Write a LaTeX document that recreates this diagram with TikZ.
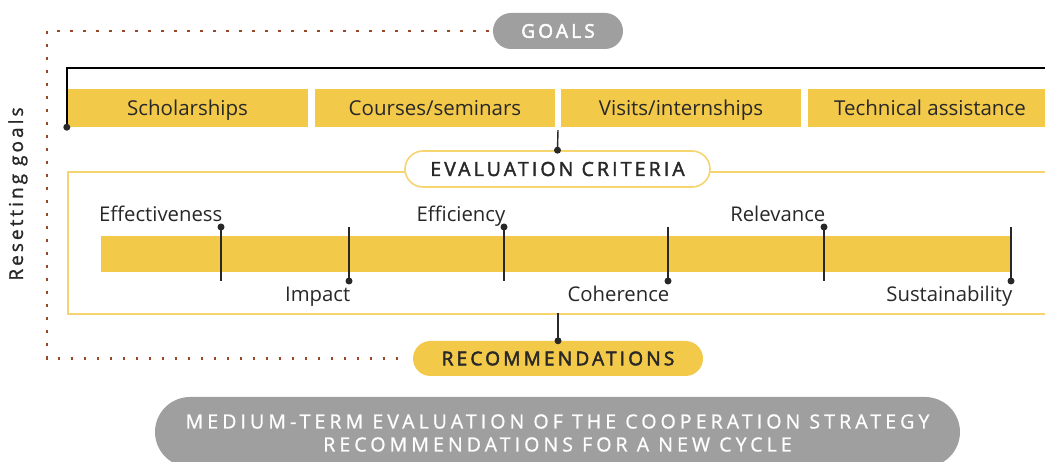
\documentclass[tikz,border=0pt]{standalone}
\usepackage{fontspec}
\setmainfont{Open Sans}
\newfontfamily\capsfont[LetterSpace=16]{Open Sans}
\newfontfamily\heavycaps[LetterSpace=17,FakeBold=2.6]{Open Sans}
\newfontfamily\widecaps[LetterSpace=21,FakeBold=1]{Open Sans}
\usetikzlibrary{calc}
\definecolor{ybar}{RGB}{243,201,74}
\definecolor{yline}{RGB}{246,212,112}
\definecolor{pill}{RGB}{158,159,158}
\definecolor{ink}{RGB}{40,40,40}
\definecolor{rust}{RGB}{150,72,40}
\begin{document}
\begin{tikzpicture}[x=1pt,y=-1pt,
  goalbox/.style={fill=ybar, text=ink, minimum height=38pt, inner sep=0pt,
    text height=19pt, text depth=3pt, font=\fontsize{20.5}{24}\selectfont},
  pillnode/.style={rounded corners=#1, inner sep=0pt},
  crit/.style={text=ink, inner sep=0pt, font=\fontsize{20.3}{24}\selectfont},
  tick/.style={draw=ink, line width=1.4pt},
  dotend/.style={fill=ink, circle, inner sep=0pt, minimum size=7pt},
  dotline/.style={draw=rust, line width=2.4pt, dash pattern=on 2.4pt off 10.6pt},
  frameline/.style={draw=yline, line width=1.6pt}]
\useasboundingbox (0,0) rectangle (1045,462);

% feedback loop: goals back to recommendations
\node[pillnode=18pt, fill=pill, text=white, minimum width=130pt, minimum height=36pt,
  font=\heavycaps\fontsize{19}{22}\selectfont] (goals) at (558,31) {GOALS};
\node[pillnode=17.5pt, fill=ybar, text=ink, minimum width=290pt, minimum height=35pt,
  font=\heavycaps\fontsize{19}{22}\selectfont] (rec) at (558,358.5) {RECOMMENDATIONS};
\coordinate (loopTL) at (47,31);
\coordinate (loopBL) at (47,358.5);
\draw[dotline] ([xshift=-4pt]goals.west) -- (loopTL) -- (loopBL) -- ([xshift=-10pt]rec.west);

\node[rotate=90, text=ink, font=\capsfont\fontsize{19}{22}\selectfont] (reset) at (18,194)
  {\addfontfeature{FakeBold=1.3}Resetting goals};

% goal categories
\node[goalbox, minimum width=241pt] (sch) at (187.5,108) {Scholarships};
\node[goalbox, minimum width=240pt] (cou) at (435,108) {Courses/seminars};
\node[goalbox, minimum width=240pt] (vis) at (681,108) {Visits/internships};
\node[goalbox, minimum width=244pt] (tec) at (930,108) {Technical assistance};

\coordinate (topR) at (1050,68);
\draw[draw=black, line width=1.5pt] (sch.south west) |- (topR);
\node[dotend] at (sch.south west) {};

% evaluation frame
\node[frameline, fill=white, anchor=north west, minimum width=990pt, minimum height=142pt, inner sep=0pt]
  (frame) at (67,171) {};
\node[pillnode=18pt, frameline, fill=white, text=ink, minimum width=305pt, minimum height=36pt,
  font=\capsfont\fontsize{19.5}{22}\selectfont] (critpill) at (557.5,169) {\addfontfeature{FakeBold=2}EVALUATION CRITERIA};
\coordinate (gap) at (558,130);
\draw[tick] (gap) -- (critpill.north);
\node[dotend] at (critpill.north) {};

\node[fill=ybar, minimum width=910pt, minimum height=36pt, inner sep=0pt] (bar) at (556,254) {};

% criteria ticks: label above (dot on top) or below (dot at bottom)
\foreach \x/\lab/\nm in {221/Effectiveness/eff, 504/Efficiency/efi, 824/Relevance/rel}{
  \coordinate (\nm top) at (\x,227);
  \coordinate (\nm bot) at (\x,281);
  \draw[tick] (\nm top) -- (\nm bot);
  \node[dotend] at (\nm top) {};
  \node[crit, anchor=base east] (\nm) at (\x+1.5,222) {\lab};
}
\foreach \x/\lab/\nm in {349/Impact/imp, 668/Coherence/coh, 1011/Sustainability/sus}{
  \coordinate (\nm top) at (\x,227);
  \coordinate (\nm bot) at (\x,281);
  \draw[tick] (\nm top) -- (\nm bot);
  \node[dotend] at (\nm bot) {};
  \node[crit, anchor=base east] (\nm) at (\x+1.5,302) {\lab};
}

\coordinate (frameout) at (558,313);
\draw[tick] (frameout) -- (rec.north);
\node[dotend] at (rec.north) {};

% outcome
\node[pillnode=35pt, fill=pill, minimum width=805pt, minimum height=70pt] (out) at (557.5,432) {};
\node[text=white, align=center, inner sep=0pt, font=\widecaps\fontsize{19.5}{23}\selectfont]
  (outtxt) at (557.5,433) {MEDIUM-TERM EVALUATION OF THE COOPERATION STRATEGY\\RECOMMENDATIONS FOR A NEW CYCLE};
\end{tikzpicture}
\end{document}
